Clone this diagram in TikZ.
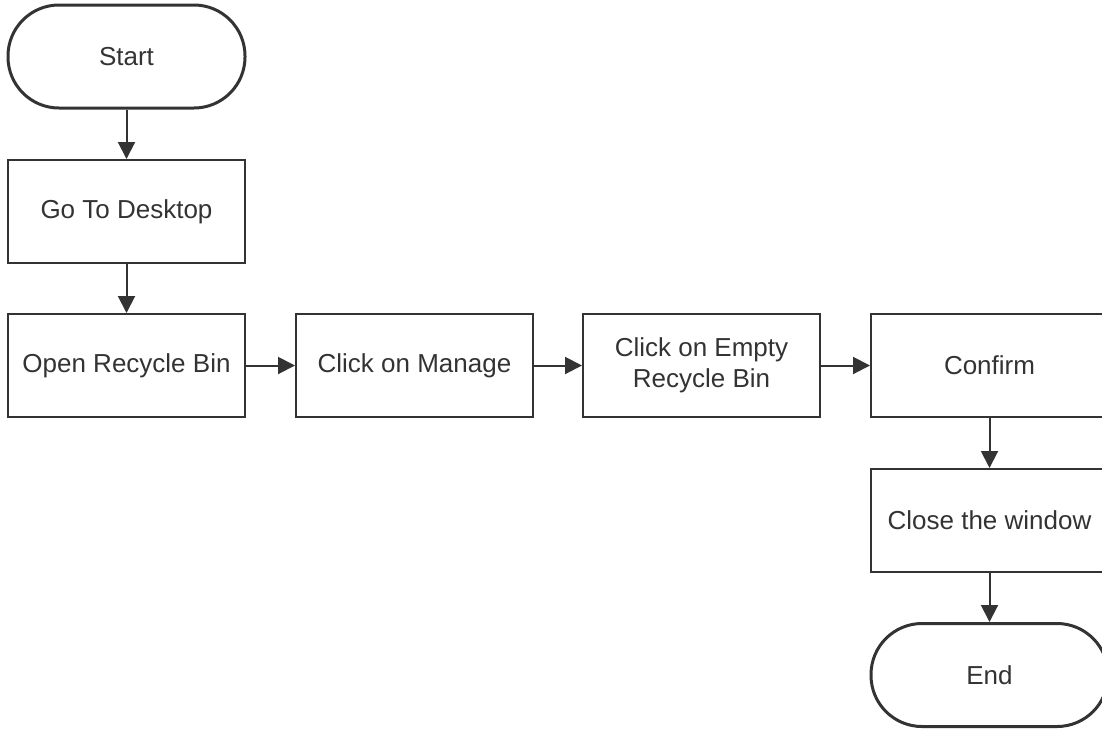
\documentclass[tikz,border=0pt]{standalone}
\usepackage{fontspec}
\setmainfont{Liberation Sans}
\usetikzlibrary{arrows.meta}
\definecolor{ink}{HTML}{333333}
\begin{document}
\begin{tikzpicture}[x=1pt,y=-1pt,
  every node/.style={font=\fontsize{26}{31}\selectfont, text=ink, align=center, inner sep=0pt},
  stepbox/.style={draw=ink, line width=2pt, minimum width=237pt, minimum height=103pt},
  termbox/.style={draw=ink, line width=3pt, minimum width=237pt, minimum height=103pt, rounded corners=51pt},
  conn/.style={draw=ink, line width=2pt, -{Triangle[length=17pt,width=17pt]}}]
\useasboundingbox (0,0) rectangle (1102,729);
\clip (0,0) rectangle (1102,729);
\node[termbox] (start) at (126.5,56.5) {Start};
\node[stepbox] (desk) at (126.5,211.5) {Go To Desktop};
\node[stepbox] (open) at (126.5,365.5) {Open Recycle Bin};
\node[stepbox] (manage) at (414.5,365.5) {Click on Manage};
\node[stepbox] (empty) at (701.5,365.5) {Click on Empty\\Recycle Bin};
\node[stepbox] (confirm) at (989.5,365.5) {Confirm};
\node[stepbox] (close) at (989.5,520.5) {Close the window};
\node[termbox] (end) at (989.5,675) {End};
\draw[conn] (start) -- (desk);
\draw[conn] (desk) -- (open);
\draw[conn] (open) -- (manage);
\draw[conn] (manage) -- (empty);
\draw[conn] (empty) -- (confirm);
\draw[conn] (confirm) -- (close);
\draw[conn] (close) -- (end);
\end{tikzpicture}
\end{document}
